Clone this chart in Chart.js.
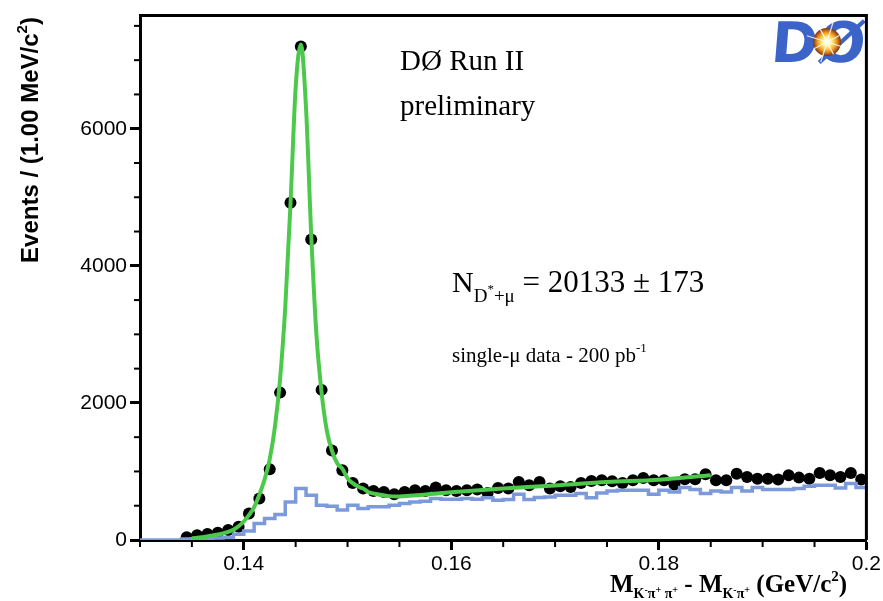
<!DOCTYPE html>
<html>
<head>
<meta charset="utf-8">
<script src="https://cdn.jsdelivr.net/npm/chart.js@4.4.1/dist/chart.umd.min.js"></script>
<style>
  html, body { margin: 0; padding: 0; background: #fff; }
</style>
</head>
<body>
<canvas id="massChart" width="883" height="601"></canvas>
<script>
// binning: 1 MeV bins from 0.130 GeV
const binStart = 0.130;
const binWidth = 0.001;
const dataFirstBin = 4; // first filled data bin is 0.134-0.135

// data points (black dots), one per bin from 0.1345 to 0.1995
const dataCounts = [
  40, 70, 87, 106, 145, 193, 387, 605, 1031, 2150,
  4920, 7200, 4385, 2190, 1307, 1016, 832, 750, 716, 701,
  668, 701, 726, 716, 765, 726, 716, 726, 736, 687,
  760, 750, 847, 799, 847, 750, 784, 774, 832, 861,
  871, 857, 832, 871, 905, 871, 871, 808, 886, 886,
  958, 871, 871, 968, 919, 895, 895, 881, 944, 910,
  895, 977, 944, 919, 977, 881
];

// background histogram (blue), 70 bins from 0.130 to 0.200
const bkgCounts = [
  0, 0, 0, 0, 15, 20, 25, 30, 35, 83,
  131, 242, 315, 373, 556, 750, 653, 508, 494, 436,
  508, 460, 484, 484, 508, 532, 556, 566, 605, 595,
  595, 605, 595, 615, 581, 590, 668, 590, 619, 629,
  653, 653, 678, 615, 687, 716, 726, 726, 726, 668,
  726, 701, 765, 736, 678, 716, 701, 765, 716, 765,
  736, 736, 736, 750, 784, 799, 799, 760, 823, 765
];

// fit curve (green)
const fitMass = [
  0.135, 0.136, 0.137, 0.138, 0.139, 0.1395, 0.140, 0.1405, 0.141, 0.1415,
  0.142, 0.1425, 0.143, 0.1435, 0.144, 0.1445, 0.145, 0.1455, 0.146, 0.1465,
  0.147, 0.1475, 0.148, 0.1485, 0.149, 0.1495, 0.150, 0.1505, 0.151, 0.1515,
  0.152, 0.153, 0.154, 0.155, 0.156, 0.158, 0.160, 0.165, 0.170, 0.175,
  0.180, 0.185
];
const fitCounts = [
  25, 40, 65, 95, 150, 200, 270, 363, 480, 660,
  880, 1180, 1650, 2350, 3400, 4900, 6600, 7230, 6300, 4450,
  3000, 2150, 1600, 1300, 1120, 1040, 900, 830, 780, 750,
  700, 665, 640, 635, 645, 670, 695, 750, 795, 845,
  880, 945
];

const yTicks = [0, 2000, 4000, 6000];
const xTicks = [0.14, 0.16, 0.18, 0.2];

const dataPoints = dataCounts.map((v, i) => ({ x: binStart + (dataFirstBin + i + 0.5) * binWidth, y: v }));
const bkgPoints = bkgCounts.map((v, i) => ({ x: binStart + i * binWidth, y: v }));
bkgPoints.push({ x: binStart + bkgCounts.length * binWidth, y: bkgCounts[bkgCounts.length - 1] });
const fitPoints = fitMass.map((m, i) => ({ x: m, y: fitCounts[i] }));

// draw a run of text pieces (for sub/superscripts)
function drawParts(ctx, x, y, parts) {
  for (const p of parts) {
    ctx.font = p.font;
    ctx.fillText(p.t, x, y + (p.dy || 0));
    x += ctx.measureText(p.t).width;
  }
  return x;
}

function drawLogo(ctx) {
  ctx.save();
  ctx.font = "bold 56px 'DejaVu Sans'";
  ctx.textBaseline = "alphabetic";
  ctx.fillStyle = "#3b63c8";
  ctx.save();
  ctx.translate(770, 62);
  ctx.transform(1, 0, -0.08, 1, 0, 0);
  ctx.scale(94 / ctx.measureText("DØ").width, 1);
  ctx.fillText("DØ", 0, 0);
  ctx.restore();
  const g = ctx.createRadialGradient(827, 42, 1, 827, 42, 14);
  g.addColorStop(0, "#ffffff");
  g.addColorStop(0.3, "#fff07a");
  g.addColorStop(0.65, "#f29a25");
  g.addColorStop(1, "#7a3412");
  ctx.fillStyle = g;
  ctx.beginPath();
  ctx.arc(827, 42, 14, 0, Math.PI * 2);
  ctx.fill();
  ctx.strokeStyle = "rgba(255,255,255,0.85)";
  ctx.lineWidth = 1.2;
  for (let k = 0; k < 8; k++) {
    const a = k * Math.PI / 4 + 0.3;
    const r = k % 2 ? 14 : 21;
    ctx.beginPath();
    ctx.moveTo(827, 42);
    ctx.lineTo(827 + r * Math.cos(a), 42 + r * Math.sin(a));
    ctx.stroke();
  }
  ctx.restore();
}

const decorations = {
  id: "decorations",
  afterDraw(chart) {
    const { ctx, chartArea: area, scales } = chart;
    const xs = scales.x, ys = scales.y;
    ctx.save();

    drawLogo(ctx);

    // top and right frame
    ctx.strokeStyle = "#000";
    ctx.lineWidth = 3;
    ctx.beginPath();
    ctx.moveTo(area.left, area.top);
    ctx.lineTo(area.right, area.top);
    ctx.lineTo(area.right, area.bottom);
    ctx.stroke();

    // minor ticks
    ctx.lineWidth = 2;
    for (let v = 500; v <= 7500; v += 500) {
      if (v % 2000 === 0) continue;
      const py = ys.getPixelForValue(v);
      ctx.beginPath();
      ctx.moveTo(area.left - 6, py);
      ctx.lineTo(area.left, py);
      ctx.stroke();
    }
    for (let k = 26; k <= 40; k++) {
      if (k % 4 === 0) continue;
      const px = xs.getPixelForValue(k * 0.005);
      ctx.beginPath();
      ctx.moveTo(px, area.bottom);
      ctx.lineTo(px, area.bottom + 7);
      ctx.stroke();
    }

    ctx.fillStyle = "#000";
    ctx.textBaseline = "alphabetic";
    ctx.textAlign = "left";
    const serif = "'Liberation Serif', 'Times New Roman', serif";

    ctx.font = "29px " + serif;
    ctx.fillText("DØ Run II", 400, 70);
    ctx.fillText("preliminary", 400, 115);

    drawParts(ctx, 452, 292, [
      { t: "N", font: "30px " + serif },
      { t: "D", font: "19px " + serif, dy: 10 },
      { t: "*", font: "13px " + serif, dy: 1 },
      { t: "+μ", font: "19px " + serif, dy: 10 },
      { t: " = 20133 ± 173", font: "31px " + serif }
    ]);

    drawParts(ctx, 452, 362, [
      { t: "single-μ data - 200 pb", font: "21px " + serif },
      { t: "-1", font: "13px " + serif, dy: -10 }
    ]);

    // x axis title
    const bs = "bold 25px " + serif, sub = "bold 14px " + serif, sup = "bold 10px " + serif;
    drawParts(ctx, 610, 592, [
      { t: "M", font: bs },
      { t: "K", font: sub, dy: 6 },
      { t: "-", font: sup, dy: 1 },
      { t: "π", font: sub, dy: 6 },
      { t: "+", font: sup, dy: 1 },
      { t: " π", font: sub, dy: 6 },
      { t: "+", font: sup, dy: 1 },
      { t: " - M", font: bs },
      { t: "K", font: sub, dy: 6 },
      { t: "-", font: sup, dy: 1 },
      { t: "π", font: sub, dy: 6 },
      { t: "+", font: sup, dy: 1 },
      { t: " (GeV/c", font: bs },
      { t: "2", font: "bold 15px " + serif, dy: -11 },
      { t: ")", font: bs }
    ]);

    // y axis title
    ctx.save();
    ctx.translate(38, 140);
    ctx.rotate(-Math.PI / 2);
    const yParts = [
      { t: "Events / (1.00 MeV/c", font: "bold 24px 'Liberation Sans', Arial, sans-serif" },
      { t: "2", font: "bold 15px 'Liberation Sans', Arial, sans-serif", dy: -11 },
      { t: ")", font: "bold 24px 'Liberation Sans', Arial, sans-serif" }
    ];
    let w = 0;
    for (const p of yParts) { ctx.font = p.font; w += ctx.measureText(p.t).width; }
    drawParts(ctx, -w / 2, 0, yParts);
    ctx.restore();

    ctx.restore();
  }
};

const tickFont = { family: "'Liberation Sans', Arial, sans-serif", size: 21 };

new Chart(document.getElementById("massChart").getContext("2d"), {
  type: "line",
  data: {
    datasets: [
      {
        label: "Fit",
        data: fitPoints,
        borderColor: "#4cc94a",
        borderWidth: 4,
        pointRadius: 0,
        cubicInterpolationMode: "monotone",
        fill: false,
        order: 0,
      },
      {
        label: "Background",
        data: bkgPoints,
        borderColor: "#7c9adb",
        borderWidth: 3.5,
        pointRadius: 0,
        stepped: "before",
        fill: false,
        order: 1,
      },
      {
        label: "Data",
        data: dataPoints,
        showLine: false,
        pointRadius: 6,
        pointBackgroundColor: "#000",
        pointBorderWidth: 0,
        order: 2,
      },
    ],
  },
  options: {
    responsive: false,
    animation: false,
    layout: { padding: { top: 13, right: 15, left: 0, bottom: 0 } },
    plugins: { legend: { display: false }, tooltip: { enabled: false } },
    scales: {
      x: {
        type: "linear",
        min: 0.13,
        max: 0.2,
        afterBuildTicks: (s) => { s.ticks = xTicks.map((v) => ({ value: v })); },
        afterFit: (s) => { s.height = 61; },
        ticks: {
          font: tickFont,
          color: "#000",
          padding: 2,
          maxRotation: 0,
          callback: (v) => String(Number(v.toFixed(2))),
        },
        grid: { drawOnChartArea: false, drawTicks: true, tickLength: 10, tickWidth: 3, tickColor: "#000" },
        border: { display: true, width: 3, color: "#000" },
      },
      y: {
        min: 0,
        max: 7650,
        afterBuildTicks: (s) => { s.ticks = yTicks.map((v) => ({ value: v })); },
        afterFit: (s) => { s.width = 140; },
        ticks: { font: tickFont, color: "#000", padding: 3, callback: (v) => String(v) },
        grid: { drawOnChartArea: false, drawTicks: true, tickLength: 10, tickWidth: 3, tickColor: "#000" },
        border: { display: true, width: 3, color: "#000" },
      },
    },
  },
  plugins: [decorations],
});
</script>
</body>
</html>
